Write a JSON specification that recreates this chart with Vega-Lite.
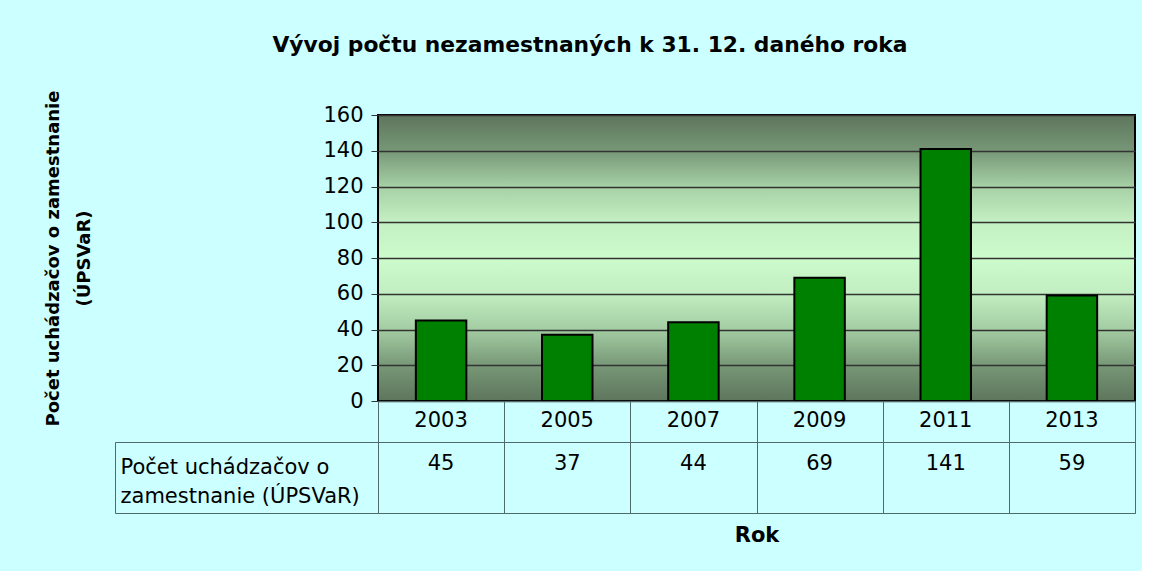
{
  "$schema": "https://vega.github.io/schema/vega-lite/v6.json",
  "background": "#CCFFFF",
  "padding": {"left": 43, "top": 35, "right": 6, "bottom": 25},
  "bounds": "flush",
  "title": {
    "text": "Vývoj počtu nezamestnaných k 31. 12. daného roka",
    "font": "DejaVu Sans",
    "fontSize": 21.8,
    "fontWeight": "bold",
    "color": "black",
    "anchor": "middle",
    "offset": 32
  },
  "datasets": {
    "d": [
      {"rok": "2003", "pocet": 45},
      {"rok": "2005", "pocet": 37},
      {"rok": "2007", "pocet": 44},
      {"rok": "2009", "pocet": 69},
      {"rok": "2011", "pocet": 141},
      {"rok": "2013", "pocet": 59}
    ]
  },
  "spacing": 0,
  "vconcat": [
    {
      "width": 757,
      "height": 286,
      "data": {"name": "d"},
      "view": {
        "stroke": "black",
        "strokeWidth": 2,
        "fill": {
          "gradient": "linear",
          "x1": 0, "y1": 0, "x2": 0, "y2": 1,
          "stops": [
            {"offset": 0, "color": "#5d755c"},
            {"offset": 0.125, "color": "#779777"},
            {"offset": 0.25, "color": "#a6d0a5"},
            {"offset": 0.375, "color": "#c4f0c3"},
            {"offset": 0.5, "color": "#ccfbcc"},
            {"offset": 0.625, "color": "#c2eec1"},
            {"offset": 0.75, "color": "#a3cca2"},
            {"offset": 0.875, "color": "#789877"},
            {"offset": 1, "color": "#5d755c"}
          ]
        }
      },
      "mark": {"type": "bar", "fill": "#008000", "stroke": "black", "strokeWidth": 2},
      "encoding": {
        "x": {
          "field": "rok",
          "type": "nominal",
          "scale": {"paddingInner": 0.6, "paddingOuter": 0.3},
          "axis": null
        },
        "y": {
          "field": "pocet",
          "type": "quantitative",
          "scale": {"domain": [0, 160], "nice": false},
          "axis": {
            "values": [0, 20, 40, 60, 80, 100, 120, 140, 160],
            "title": ["Počet uchádzačov o zamestnanie", "(ÚPSVaR)"],
            "titleFont": "DejaVu Sans",
            "titleFontSize": 18,
            "titleFontWeight": "bold",
            "titleLineHeight": 31,
            "titleColor": "black",
            "titlePadding": 229,
            "grid": true,
            "gridColor": "#333333",
            "gridWidth": 1.5,
            "domain": false,
            "tickColor": "#333333",
            "tickSize": 7,
            "labelFont": "DejaVu Sans",
            "labelFontSize": 21,
            "labelPadding": 8,
            "labelColor": "black"
          }
        }
      }
    },
    {
      "width": 757,
      "height": 41,
      "data": {"name": "d"},
      "view": {"stroke": "#4f6a6a", "strokeWidth": 1},
      "mark": {"type": "text", "font": "DejaVu Sans", "fontSize": 21, "color": "black", "dy": -1},
      "encoding": {
        "x": {
          "field": "rok",
          "type": "nominal",
          "scale": {"paddingInner": 0, "paddingOuter": 0},
          "axis": {
            "grid": true,
            "tickBand": "extent",
            "labels": false,
            "ticks": false,
            "domain": false,
            "title": null,
            "gridColor": "#4f6a6a",
            "gridWidth": 1,
            "gridOpacity": 1
          }
        },
        "text": {"field": "rok"}
      }
    },
    {
      "width": 757,
      "height": 71,
      "data": {"name": "d"},
      "view": {"stroke": "#4f6a6a", "strokeWidth": 1},
      "mark": {"type": "text", "font": "DejaVu Sans", "fontSize": 21, "color": "black", "dy": -14},
      "encoding": {
        "x": {
          "field": "rok",
          "type": "nominal",
          "scale": {"paddingInner": 0, "paddingOuter": 0},
          "axis": {
            "grid": true,
            "tickBand": "extent",
            "labels": false,
            "ticks": false,
            "domain": false,
            "title": "Rok",
            "titleFont": "DejaVu Sans",
            "titleFontSize": 21,
            "titleFontWeight": "bold",
            "titleColor": "black",
            "titlePadding": 11,
            "gridColor": "#4f6a6a",
            "gridWidth": 1,
            "gridOpacity": 1
          }
        },
        "y": {
          "datum": 0.5,
          "type": "quantitative",
          "scale": {"domain": [0, 1], "nice": false},
          "axis": {
            "values": [0, 1],
            "offset": 263,
            "tickSize": -263,
            "tickColor": "#4f6a6a",
            "tickWidth": 1,
            "domain": true,
            "domainColor": "#4f6a6a",
            "domainWidth": 1,
            "labels": false,
            "grid": false,
            "title": ["Počet uchádzačov o", "zamestnanie (ÚPSVaR)"],
            "titleAngle": 0,
            "titleAlign": "left",
            "titleBaseline": "top",
            "titleX": 5,
            "titleY": 14,
            "titleFont": "DejaVu Sans",
            "titleFontSize": 21,
            "titleFontWeight": "normal",
            "titleColor": "black",
            "titleLineHeight": 29
          }
        },
        "text": {"field": "pocet"}
      }
    }
  ],
  "config": {
    "font": "Liberation Sans"
  }
}
